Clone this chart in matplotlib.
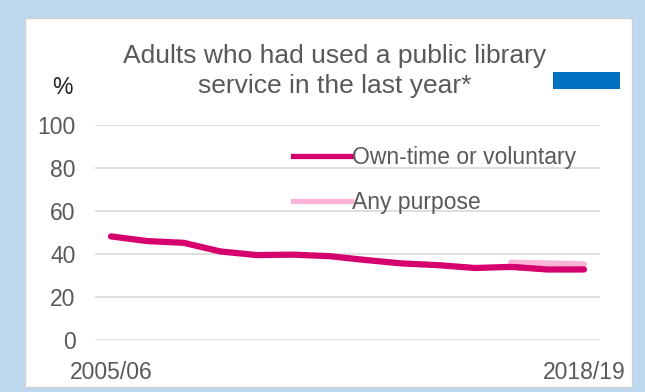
import matplotlib.pyplot as plt
from matplotlib.patches import Rectangle
from matplotlib.lines import Line2D

plt.rcParams['font.family'] = ['Liberation Sans', 'DejaVu Sans']

# Adults using a public library service, %
years = ['2005/06', '2006/07', '2007/08', '2008/09', '2009/10', '2010/11', '2011/12',
         '2012/13', '2013/14', '2014/15', '2015/16', '2016/17', '2017/18', '2018/19']
own_time = [48.2, 46.0, 45.2, 41.2, 39.5, 39.7, 39.0, 37.2, 35.6, 34.8, 33.5, 34.0, 32.8, 32.8]
any_purpose_years = ['2016/17', '2017/18', '2018/19']
any_purpose = [36.0, 35.6, 35.2]
shown_ticks = ['2005/06', '2018/19']

magenta = '#D5006D'
light_pink = '#F9B4D8'
grey_text = '#595959'

fig = plt.figure(figsize=(6.45, 3.92), dpi=100)
fig.patch.set_facecolor('#BDD7EE')
fig.patches.append(Rectangle((25 / 645, 1 - 387 / 392), 607 / 645, 369 / 392,
                             transform=fig.transFigure, facecolor='white',
                             edgecolor='#D0D0D0', linewidth=1, zorder=-2))

ax = fig.add_axes([95 / 645, 1 - 340 / 392, 505 / 645, 215 / 392])
ax.set_facecolor('none')

xs = list(range(len(years)))
ap_xs = [years.index(y) for y in any_purpose_years]
ax.plot(ap_xs, any_purpose, color=light_pink, lw=4.5, solid_capstyle='round', zorder=3)
ax.plot(xs, own_time, color=magenta, lw=4.5, solid_capstyle='round', zorder=4)

ax.set_xlim(-0.44, 13.44)
ax.set_ylim(0, 100)
ax.set_yticks(range(0, 101, 20))
ax.set_xticks([years.index(t) for t in shown_ticks])
ax.set_xticklabels(shown_ticks)
ax.yaxis.grid(True, color='#D9D9D9', lw=1.2)
ax.set_axisbelow(True)
for s in ax.spines.values():
    s.set_visible(False)
ax.tick_params(axis='both', length=0, labelsize=16.5, labelcolor=grey_text)
ax.tick_params(axis='y', pad=14)
ax.tick_params(axis='x', pad=15)

handles = [Line2D([], [], color=magenta, lw=3.8),
           Line2D([], [], color=light_pink, lw=3.8)]
ax.legend(handles, ['Own-time or voluntary', 'Any purpose'], loc='upper left',
          bbox_to_anchor=(0.37, 0.955), frameon=False, fontsize=16.5,
          handlelength=2.5, handletextpad=0.05, labelspacing=0.95, borderpad=0,
          labelcolor=grey_text)

fig.text(335 / 645, 1 - 71 / 392, 'Adults who had used a public library\nservice in the last year*',
         ha='center', va='center', fontsize=19, color=grey_text, linespacing=1.3)
fig.text(62 / 645, 1 - 87 / 392, '%', ha='center', va='center', fontsize=16.5, color='#222222')
fig.patches.append(Rectangle((553 / 645, 1 - 89 / 392), 67 / 645, 17 / 392,
                             transform=fig.transFigure, facecolor='#0070C0',
                             edgecolor='none', zorder=1))

fig.savefig('out.png', dpi=100, facecolor=fig.get_facecolor())
